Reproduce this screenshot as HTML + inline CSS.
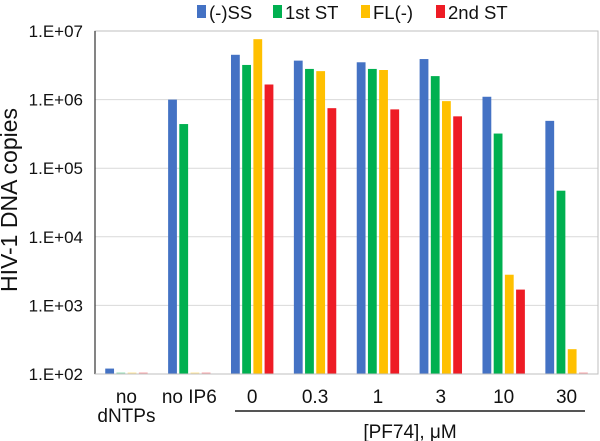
<!DOCTYPE html>
<html><head><meta charset="utf-8"><style>
body{margin:0;background:#fff;}
svg{display:block;font-family:"Liberation Sans",Arial,sans-serif;}
</style></head><body>
<svg id="chart" width="600" height="441">
<text x="17" y="200" font-size="23" text-anchor="middle" transform="rotate(-90 17 200)" fill="#111">HIV-1 DNA copies</text>
<line x1="235" y1="411" x2="585" y2="411" stroke="#555" stroke-width="2"/>
<text x="410" y="438" font-size="19" text-anchor="middle" fill="#111">[PF74], μM</text>
</svg>
<script>
const categories=["no|dNTPs","no IP6","0","0.3","1","3","10","30"];
const seriesNames=["(-)SS","1st ST","FL(-)","2nd ST"];
const seriesColors=["#4472c4","#00b050","#ffc000","#ee1c25"];
const ssValues=[120,1.0e6,4.5e6,3.7e6,3.5e6,3.9e6,1.1e6,4.9e5];
const st1Values=[100,4.4e5,3.2e6,2.8e6,2.8e6,2.2e6,3.2e5,4.7e4];
const flValues=[100,100,7.6e6,2.6e6,2.7e6,9.5e5,2.8e3,2.3e2];
const st2Values=[100,100,1.66e6,7.5e5,7.2e5,5.7e5,1.7e3,100];
const yTickLabels=["1.E+02","1.E+03","1.E+04","1.E+05","1.E+06","1.E+07"];
const yTickValues=[1e2,1e3,1e4,1e5,1e6,1e7];

const svg=document.getElementById('chart');
const NS="http://www.w3.org/2000/svg";
const L=95,R=598,T=31,B=374;
const yScale=v=>B-(Math.log10(v)-2)/5*(B-T);
const gw=(R-L)/categories.length;
const xCenter=i=>L+gw*(i+0.5);
function mk(tag,attrs){const e=document.createElementNS(NS,tag);for(const k in attrs)e.setAttribute(k,attrs[k]);svg.appendChild(e);return e;}

yTickValues.forEach((v,i)=>{
  const y=yScale(v);
  if(i>0){const g=mk('line',{x1:L,x2:R,y1:y,y2:y,stroke:'#d9d9d9','stroke-width':1});
  
  }
  const t=mk('text',{x:83,y:y+6,'font-size':17,'text-anchor':'end',fill:'#111'});
  t.textContent=yTickLabels[i];
  
  
});
const frame=mk('rect',{x:L,y:T,width:R-L,height:B-T,fill:'none',stroke:'#bfbfbf','stroke-width':1});



const all=[ssValues,st1Values,flValues,st2Values];
const bw=8.8,pitch=11.2;
categories.forEach((c,i)=>{
  all.forEach((vals,s)=>{
    const v=vals[i];const y=yScale(v);
    const x=xCenter(i)-2*pitch+(pitch-bw)/2+s*pitch;
    const h=Math.max(B-y,1.5);
    const r=mk('rect',{x:x,y:B-h,width:bw,height:h,fill:seriesColors[s],opacity:(v<=100?0.4:1)});
    
    
  });
  const lines=c.split('|');
  lines.forEach((ln,j)=>{
    const t=mk('text',{x:xCenter(i),y:403+j*19,'font-size':19,'text-anchor':'middle',fill:'#111'});
    t.textContent=ln;
    
    
  });
});
const ax=mk('line',{x1:L,x2:L,y1:T,y2:B,stroke:'#333','stroke-width':1.2});


const axb=mk('line',{x1:L,x2:R,y1:B,y2:B,stroke:'#bfbfbf','stroke-width':1});



const legX=[197,273,361,436];
seriesNames.forEach((n,s)=>{
  const r=mk('rect',{x:legX[s],y:5,width:9,height:13,fill:seriesColors[s]});
  
  
  const t=mk('text',{x:legX[s]+12,y:19,'font-size':18.5,fill:'#111'});
  t.textContent=n;
  
  
});
</script>
</body></html>
